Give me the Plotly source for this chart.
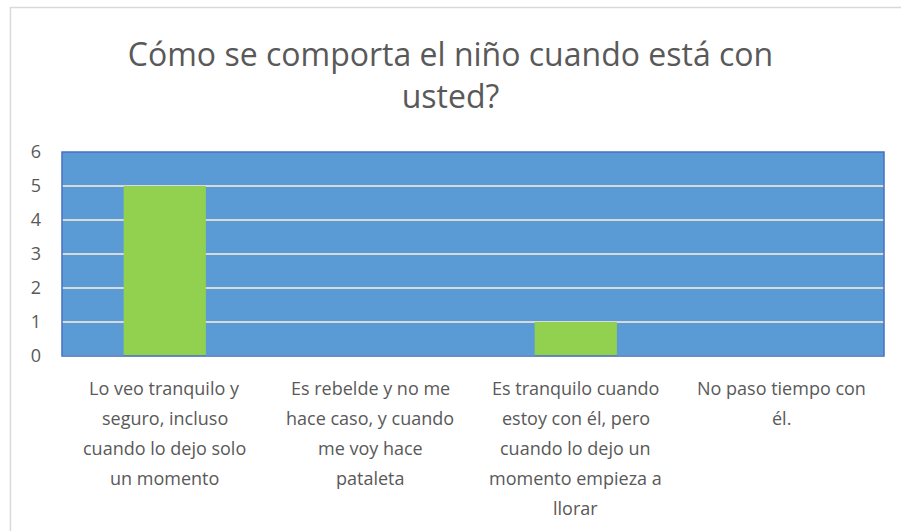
import plotly.graph_objects as go

# ── Data ──────────────────────────────────────────────────────────────────────
CATEGORIES = [
    "Lo veo tranquilo y<br>seguro, incluso<br>cuando lo dejo solo<br>un momento",
    "Es rebelde y no me<br>hace caso, y cuando<br>me voy hace<br>pataleta",
    "Es tranquilo cuando<br>estoy con él, pero<br>cuando lo dejo un<br>momento empieza a<br>llorar",
    "No paso tiempo con<br>él.",
]
VALUES = [5, 0, 1, 0]
Y_TICKS = [0, 1, 2, 3, 4, 5, 6]
TITLE = "Cómo se comporta el niño cuando está con<br>usted?"

# ── Design tokens ─────────────────────────────────────────────────────────────
PLOT_BG  = "#5B9BD5"
BAR_CLR  = "#92D050"
GRID_CLR = "#D9D9D9"
EDGE_CLR = "#4472C4"
TEXT_CLR = "#595959"
FONT     = "Open Sans, sans-serif"

fig = go.Figure(go.Bar(
    x=list(range(len(CATEGORIES))),
    y=VALUES,
    marker=dict(color=BAR_CLR, line=dict(width=0)),
    hoverinfo="skip",
))

# x labels as stacked annotations (wider line spacing than tick labels allow)
annotations = []
for i, label in enumerate(CATEGORIES):
    for j, line in enumerate(label.split("<br>")):
        annotations.append(dict(
            x=i, xref="x", y=0, yref="paper",
            text=line, showarrow=False,
            xanchor="center", yanchor="top",
            yshift=-18 - 30 * j,
            font=dict(family=FONT, size=18, color=TEXT_CLR),
        ))

fig.update_layout(
    width=901, height=531,
    paper_bgcolor="white",
    plot_bgcolor=PLOT_BG,
    font=dict(family=FONT, color=TEXT_CLR, size=18),
    margin=dict(l=62, r=17, t=152, b=175),
    showlegend=False,
    bargap=0.6,
    title=dict(
        text=TITLE, x=0.5, xanchor="center",
        y=0.875, yanchor="top", yref="container",
        font=dict(family=FONT, size=32, color=TEXT_CLR),
    ),
    xaxis=dict(
        range=[-0.5, len(CATEGORIES) - 0.5],
        showticklabels=False, showgrid=False, zeroline=False,
        showline=False,
    ),
    yaxis=dict(
        range=[0, 6], tickvals=Y_TICKS,
        showgrid=True, gridcolor=GRID_CLR, gridwidth=1.5,
        zeroline=True, zerolinecolor=GRID_CLR, zerolinewidth=2,
        showline=False, ticks="",
        ticklabelstandoff=20,
        tickfont=dict(family=FONT, size=18, color=TEXT_CLR),
    ),
    annotations=annotations,
    shapes=[
        # plot-area border
        dict(type="rect", xref="paper", yref="paper", x0=0, x1=1, y0=0, y1=1,
             line=dict(color=EDGE_CLR, width=1.5), layer="above"),
        # outer chart frame (left and top edges visible)
        dict(type="rect", xref="paper", yref="paper",
             x0=-0.0627, x1=1.1, y0=-1.0, y1=1.708,
             line=dict(color=GRID_CLR, width=1.5)),
    ],
)

fig.write_html(
    "out.html",
    config={"displayModeBar": False},
    post_script="document.body.style.margin='0';",
)
